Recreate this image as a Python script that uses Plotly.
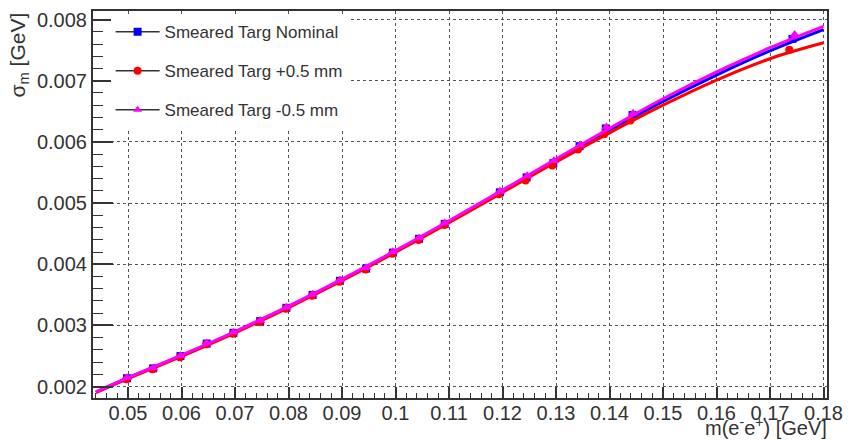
import plotly.graph_objects as go

# Mass points (reconstructed mean mass) and resolution for each target configuration
x_nom = [0.0498, 0.0547, 0.0598, 0.0647, 0.0697, 0.0747, 0.0796, 0.0845, 0.0896, 0.0945,
         0.0995, 0.1044, 0.1092, 0.1195, 0.1245, 0.1295, 0.1344, 0.1393, 0.1443, 0.1742]
x_plus = [0.0497, 0.0546, 0.0597, 0.0646, 0.0696, 0.0746, 0.0795, 0.0844, 0.0895, 0.0944,
          0.0994, 0.1043, 0.1091, 0.1193, 0.1243, 0.1293, 0.1341, 0.1390, 0.1439, 0.1736]
x_minus = [0.0498, 0.0547, 0.0598, 0.0647, 0.0697, 0.0747, 0.0796, 0.0845, 0.0896, 0.0945,
           0.0995, 0.1044, 0.1092, 0.1195, 0.1246, 0.1296, 0.1345, 0.1394, 0.1444, 0.1746]

sigma_nom = [0.002136, 0.002298, 0.002498, 0.002703, 0.002878, 0.003070, 0.003287, 0.003498,
             0.003729, 0.003929, 0.004190, 0.004415, 0.004660, 0.005175, 0.005420, 0.005652,
             0.005930, 0.006220, 0.006440, 0.007684]
sigma_plus = [0.002120, 0.002285, 0.002480, 0.002690, 0.002862, 0.003055, 0.003272, 0.003485,
              0.003712, 0.003915, 0.004172, 0.004398, 0.004642, 0.005145, 0.005370, 0.005615,
              0.005875, 0.006125, 0.006350, 0.007505]
sigma_minus = [0.002145, 0.002305, 0.002505, 0.002712, 0.002888, 0.003080, 0.003297, 0.003510,
               0.003742, 0.003942, 0.004202, 0.004430, 0.004675, 0.005195, 0.005445, 0.005690,
               0.005950, 0.006245, 0.006470, 0.007754]

# Fitted resolution curves
fit_x = [0.044, 0.05, 0.06, 0.07, 0.08, 0.09, 0.10, 0.11, 0.12, 0.13, 0.14, 0.15, 0.16, 0.17, 0.18]
fit_nom = [0.001910, 0.002140, 0.002505, 0.002890, 0.003305, 0.003745, 0.004210, 0.004695,
           0.005195, 0.005700, 0.006190, 0.006662, 0.007093, 0.007488, 0.007835]
fit_plus = [0.001900, 0.002128, 0.002492, 0.002877, 0.003292, 0.003731, 0.004195, 0.004678,
            0.005175, 0.005672, 0.006148, 0.006600, 0.007010, 0.007360, 0.007620]
fit_minus = [0.001915, 0.002147, 0.002514, 0.002900, 0.003316, 0.003757, 0.004223, 0.004710,
             0.005212, 0.005720, 0.006222, 0.006705, 0.007145, 0.007540, 0.007890]

labels = ["Smeared Targ Nominal", "Smeared Targ +0.5 mm", "Smeared Targ -0.5 mm"]
colors = ["#0000ff", "#ff0000", "#ff00ff"]
symbols = ["square", "circle", "triangle-up"]

series = [
    (x_nom, sigma_nom, fit_nom),
    (x_plus, sigma_plus, fit_plus),
    (x_minus, sigma_minus, fit_minus),
]

fig = go.Figure()

for (xs, ys, fy), lab, col, sym in zip(series, labels, colors, symbols):
    fig.add_trace(go.Scatter(x=fit_x, y=fy, mode="lines",
                             line=dict(color=col, width=3, shape="spline", smoothing=1.0),
                             showlegend=False, hoverinfo="skip"))
    fig.add_trace(go.Scatter(x=xs, y=ys, mode="markers",
                             marker=dict(symbol=sym, color=col, size=8 if sym != "triangle-up" else 9),
                             showlegend=False))

# Legend entries: dark line with coloured marker
for i, (lab, col, sym) in enumerate(zip(labels, colors, symbols)):
    fig.add_trace(go.Scatter(x=[None], y=[None], mode="lines+markers", name=lab,
                             legendgroup=f"g{i}",
                             line=dict(color="#333333", width=1.5),
                             marker=dict(symbol=sym, color=col, size=8)))

axis_common = dict(
    showline=True, linecolor="#333333", linewidth=2, mirror=True,
    showgrid=True, gridcolor="#555555", griddash="dot", gridwidth=1,
    ticks="inside", tickcolor="#333333", tickwidth=1.5,
    tickfont=dict(family="Liberation Sans, Arial, sans-serif", size=20, color="#333333"),
    zeroline=False, exponentformat="none",
)

fig.update_layout(
    width=852, height=441,
    margin=dict(l=93, r=17, t=9, b=43),
    plot_bgcolor="white", paper_bgcolor="white",
    font=dict(family="Liberation Sans, Arial, sans-serif", color="#333333"),
    xaxis=dict(range=[0.04345, 0.18065], tick0=0.05, dtick=0.01, ticklen=11,
               ticklabelstandoff=-4,
               minor=dict(dtick=0.002, ticks="inside", ticklen=5.5, tickcolor="#333333",
                          tickwidth=1.2, showgrid=False),
               **axis_common),
    yaxis=dict(range=[0.001813, 0.00814], tick0=0.002, dtick=0.001, ticklen=20,
               minor=dict(dtick=0.0002, ticks="inside", ticklen=10, tickcolor="#333333",
                          tickwidth=1.2, showgrid=False),
               **axis_common),
    legend=dict(x=0.024, y=0.992, xanchor="left", yanchor="top", bgcolor="white",
                font=dict(size=17, color="#333333"), tracegroupgap=14,
                itemwidth=44),
    showlegend=True,
)

fig.add_annotation(text="m(e<sup>-</sup>e<sup>+</sup>) [GeV]", xref="paper", yref="paper",
                   x=1.0, y=0, xanchor="right", yanchor="bottom", yshift=-43, xshift=2,
                   showarrow=False, font=dict(size=20, color="#333333"))
fig.add_annotation(text="σ<sub>m</sub> [GeV]", xref="paper", yref="paper",
                   x=0, y=1.0, xanchor="right", yanchor="top", textangle=-90,
                   xshift=-60, yshift=0,
                   showarrow=False, font=dict(size=21, color="#333333"))

fig.write_html("out.html")
